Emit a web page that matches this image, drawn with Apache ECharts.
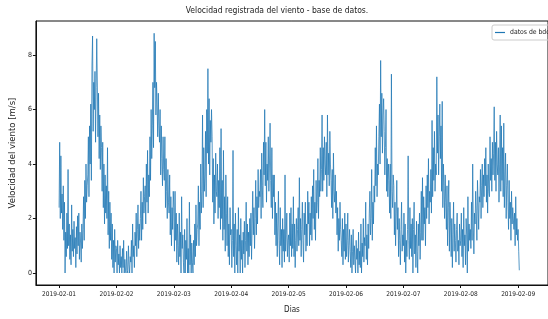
<!DOCTYPE html>
<html>
<head>
<meta charset="utf-8">
<script src="https://cdn.jsdelivr.net/npm/echarts@6/dist/echarts.min.js"></script>
<style>
  html, body { margin: 0; padding: 0; background: #fff; }
  #main { width: 548px; height: 319px; }
</style>
</head>
<body>
<div id="main"></div>
<script>
// velocidad del viento cada 15 min, un bloque por dia (96 valores)
const day1 = [2.4, 4.8, 2.0, 4.3, 2.2, 2.9, 1.6, 3.2, 1.2, 2.6, 0.0, 1.5, 0.6, 2.2, 0.9, 3.8,
  1.0, 1.8, 0.5, 1.4, 0.3, 2.5, 0.8, 1.6, 0.6, 1.9, 0.9, 1.3, 0.2, 1.7, 0.7, 2.1,
  1.0, 2.2, 0.5, 1.5, 1.1, 0.4, 1.8, 0.9, 1.6, 2.8, 1.2, 3.4, 2.0, 4.0, 2.6, 3.2,
  3.6, 5.0, 2.8, 5.4, 4.0, 6.2, 3.4, 7.6, 8.7, 5.2, 7.0, 6.0, 7.4, 4.8, 6.8, 8.6,
  6.9, 5.0, 6.6, 4.2, 5.8, 3.8, 5.4, 4.6, 3.0, 4.8, 2.4, 4.0, 1.8, 3.6, 2.2, 3.2,
  2.0, 4.6, 1.4, 3.0, 0.9, 2.6, 1.2, 2.2, 0.5, 1.8, 0.2, 1.2, 0.0, 1.6, 0.4, 1.0];
const day2 = [0.9, 0.0, 1.2, 0.3, 0.7, 0.0, 1.0, 0.2, 0.6, 0.0, 0.9, 0.2, 1.2, 0.0, 0.5, 0.1,
  0.0, 0.8, 0.1, 0.0, 1.0, 0.3, 0.0, 0.6, 0.4, 1.2, 0.0, 1.8, 0.6, 1.0, 0.2, 1.5,
  1.0, 2.2, 0.6, 1.6, 2.5, 0.9, 1.8, 1.2, 2.0, 3.0, 1.2, 2.6, 1.6, 3.5, 2.2, 2.8,
  3.2, 1.8, 4.0, 2.6, 4.5, 2.2, 3.6, 2.8, 5.0, 3.4, 6.0, 4.2, 5.4, 7.0, 4.6, 8.8,
  6.8, 8.5, 5.8, 7.0, 6.2, 5.0, 6.6, 5.4, 4.8, 6.0, 3.6, 5.4, 4.2, 3.2, 5.0, 3.8,
  3.4, 5.0, 2.4, 4.2, 3.0, 2.0, 3.8, 2.6, 2.2, 3.6, 1.4, 2.8, 1.0, 2.4, 1.6, 3.0];
const day3 = [2.4, 0.8, 3.0, 1.2, 2.2, 0.4, 1.8, 1.0, 0.3, 2.2, 0.6, 1.5, 0.0, 2.8, 0.9, 1.4,
  0.4, 0.0, 1.6, 0.0, 1.2, 0.5, 2.0, 0.0, 0.9, 0.0, 2.6, 0.3, 1.4, 0.0, 1.1, 0.4,
  0.0, 1.2, 0.3, 1.8, 0.6, 2.5, 1.0, 1.6, 1.8, 3.2, 1.0, 2.6, 1.6, 4.0, 2.2, 3.0,
  5.8, 2.4, 4.6, 3.0, 3.6, 5.2, 2.8, 6.0, 4.4, 7.5, 4.0, 6.4, 3.6, 5.6, 4.8, 6.0,
  5.0, 2.6, 4.2, 1.8, 3.6, 2.2, 4.4, 3.0, 2.8, 4.0, 2.0, 3.4, 2.4, 4.6, 1.6, 5.3,
  2.0, 3.4, 1.2, 4.5, 1.6, 2.8, 0.8, 3.6, 2.2, 1.0, 2.8, 0.6, 1.8, 0.3, 2.4, 1.4];
const day4 = [1.6, 0.2, 1.2, 4.5, 0.6, 1.8, 0.0, 2.2, 1.0, 0.3, 1.6, 0.0, 2.4, 0.8, 1.4, 0.0,
  2.0, 0.5, 1.2, 0.0, 1.5, 0.7, 1.9, 0.2, 1.2, 2.6, 0.8, 1.8, 0.3, 1.5, 0.6, 2.0,
  1.0, 2.2, 0.5, 1.8, 3.0, 1.4, 2.4, 0.9, 2.0, 3.4, 1.4, 2.8, 1.8, 3.8, 2.4, 3.0,
  2.8, 3.8, 2.0, 4.4, 3.2, 2.4, 4.8, 3.6, 6.0, 3.2, 4.8, 2.6, 4.0, 3.4, 5.0, 3.0,
  4.0, 5.5, 3.4, 2.4, 4.6, 2.0, 3.6, 2.8, 3.6, 1.4, 2.6, 1.0, 2.2, 0.6, 1.8, 3.0,
  1.2, 0.3, 2.4, 1.0, 1.6, 0.2, 2.0, 0.8, 1.6, 0.4, 3.6, 0.8, 1.4, 2.2, 0.6, 1.2];
const day5 = [1.4, 0.4, 2.2, 1.0, 2.4, 0.6, 1.8, 0.9, 2.8, 0.6, 1.8, 0.2, 1.2, 2.0, 0.8, 1.6,
  2.4, 1.0, 3.5, 1.2, 2.0, 0.6, 1.6, 2.6, 1.2, 0.4, 2.2, 1.4, 2.6, 0.8, 1.8, 1.0,
  3.0, 1.8, 2.6, 1.0, 2.2, 1.4, 2.8, 1.2, 3.2, 2.0, 3.8, 1.6, 2.6, 1.2, 3.4, 2.2,
  2.6, 4.2, 2.0, 3.4, 2.8, 4.6, 3.0, 3.8, 5.8, 3.0, 4.6, 3.4, 5.0, 4.0, 3.6, 4.8,
  2.8, 5.8, 3.6, 4.4, 3.2, 5.2, 4.0, 3.4, 2.4, 3.8, 2.0, 4.4, 3.0, 2.6, 3.6, 2.2,
  3.0, 1.4, 2.4, 0.8, 2.0, 1.2, 2.6, 1.6, 1.2, 0.6, 2.0, 0.3, 1.6, 0.8, 2.2, 0.5];
const day6 = [1.8, 0.6, 1.2, 2.2, 0.4, 1.0, 1.6, 0.8, 0.2, 1.4, 0.0, 0.8, 1.6, 0.3, 1.0, 0.5,
  0.0, 1.2, 0.5, 0.9, 0.0, 1.5, 0.3, 0.8, 0.2, 1.8, 0.0, 1.1, 0.6, 2.0, 0.4, 1.3,
  1.0, 2.6, 0.5, 1.4, 0.3, 1.8, 0.9, 2.2, 3.0, 1.4, 2.0, 3.8, 1.2, 2.6, 1.8, 3.2,
  2.6, 4.6, 3.2, 5.4, 2.8, 4.0, 3.6, 5.0, 6.2, 4.0, 7.8, 5.0, 6.6, 4.4, 5.8, 6.4,
  5.2, 3.6, 4.6, 6.0, 3.0, 4.2, 2.8, 4.0, 3.4, 2.2, 4.0, 2.0, 7.3, 3.0, 2.4, 3.6,
  3.2, 1.4, 2.6, 1.0, 2.2, 3.4, 1.6, 2.4, 0.6, 2.0, 1.2, 0.3, 1.6, 2.6, 0.8, 1.4];
const day7 = [1.0, 2.2, 0.4, 1.8, 0.0, 1.2, 0.6, 1.6, 4.3, 1.2, 0.5, 2.4, 0.9, 1.8, 0.6, 2.0,
  0.0, 1.6, 2.6, 0.7, 1.4, 0.2, 1.9, 0.8, 0.0, 1.8, 1.0, 2.2, 0.5, 1.5, 3.0, 1.2,
  3.5, 1.2, 2.8, 1.8, 2.4, 1.0, 3.2, 2.0, 3.6, 2.4, 4.2, 1.8, 3.0, 2.6, 3.8, 2.2,
  5.6, 2.8, 4.6, 3.4, 5.2, 3.0, 4.0, 3.6, 7.2, 4.4, 5.8, 3.6, 5.0, 6.2, 4.2, 5.4,
  3.0, 6.3, 2.4, 4.0, 3.2, 2.0, 3.6, 2.6, 1.6, 3.2, 1.0, 2.4, 3.4, 0.8, 2.6, 1.8,
  0.6, 2.0, 0.2, 1.4, 2.6, 0.8, 1.8, 1.2, 0.4, 1.6, 2.2, 0.8, 1.2, 0.3, 1.8, 1.0];
const day8 = [1.2, 2.2, 0.6, 1.6, 0.2, 2.4, 1.0, 1.4, 0.3, 2.0, 1.4, 0.0, 2.8, 0.8, 1.8, 1.2,
  1.6, 0.9, 2.6, 1.2, 4.0, 1.8, 0.7, 2.2, 1.8, 3.0, 2.2, 1.2, 3.4, 2.6, 1.6, 2.8,
  2.6, 3.8, 2.0, 3.2, 4.0, 2.4, 3.6, 2.8, 4.2, 3.2, 4.6, 2.6, 3.6, 2.2, 4.0, 3.0,
  2.8, 5.0, 3.4, 4.2, 3.0, 4.8, 3.6, 4.4, 6.1, 3.4, 4.8, 3.0, 5.2, 4.0, 3.6, 4.6,
  2.6, 4.0, 5.8, 3.0, 5.4, 3.4, 4.6, 2.8, 5.5, 2.4, 3.6, 4.4, 2.0, 3.2, 4.0, 2.6,
  1.6, 3.4, 2.0, 2.6, 1.2, 3.0, 1.8, 2.4, 2.4, 1.6, 2.2, 1.0, 2.8, 1.4, 2.0, 1.2];
const lastVals = [1.6, 0.8, 0.1];

const tickLabels = ['2019-02-01', '2019-02-02', '2019-02-03', '2019-02-04', '2019-02-05',
  '2019-02-06', '2019-02-07', '2019-02-08', '2019-02-09'];
const xTicks = [0, 24, 48, 72, 96, 120, 144, 168, 192]; // horas desde 2019-02-01
const yTicks = [0, 2, 4, 6, 8];
const stepHours = 0.25;

const allVals = [].concat(day1, day2, day3, day4, day5, day6, day7, day8, lastVals);
const seriesData = allVals.map((v, i) => [i * stepHours, v]);

const fontNarrow = "'Liberation Sans Narrow', 'DejaVu Sans Condensed', 'Liberation Sans', sans-serif";
const txt = '#222';

var myChart = echarts.init(document.getElementById('main'), null, { renderer: 'canvas' });
var option = {
  backgroundColor: '#fff',
  animation: false,
  title: {
    text: 'Velocidad registrada del viento - base de datos.',
    left: 277,
    top: 6,
    padding: 0,
    textAlign: 'center',
    textStyle: { fontSize: 8.5, fontWeight: 'normal', color: txt, fontFamily: fontNarrow }
  },
  legend: {
    data: ['datos de bdd'],
    left: 492,
    top: 25,
    padding: [4, 3],
    borderColor: '#ccc',
    borderWidth: 1,
    borderRadius: 2,
    icon: 'rect',
    itemWidth: 10,
    itemHeight: 1.2,
    itemGap: 3,
    itemStyle: { color: '#1f77b4' },
    textStyle: { fontSize: 6.8, color: txt, fontFamily: fontNarrow }
  },
  grid: {
    left: 27,
    right: -4,
    top: 21,
    bottom: 29,
    show: true,
    borderColor: '#111',
    borderWidth: 1,
    backgroundColor: 'transparent'
  },
  xAxis: {
    type: 'value',
    min: -9.7,
    max: 204.5,
    name: 'Dias',
    nameLocation: 'middle',
    nameGap: 21,
    nameTextStyle: { fontSize: 8, color: txt, fontFamily: fontNarrow },
    axisLine: { show: true, onZero: false, lineStyle: { color: '#111', width: 1 } },
    axisTick: { show: true, inside: false, length: 3, customValues: xTicks, lineStyle: { color: '#111' } },
    axisLabel: {
      customValues: xTicks,
      formatter: v => tickLabels[Math.round(v / 24)],
      fontSize: 6.5, color: txt, fontFamily: fontNarrow, margin: 6
    },
    splitLine: { show: false }
  },
  yAxis: {
    type: 'value',
    min: -0.44,
    max: 9.25,
    name: 'Velocidad del viento [m/s]',
    nameLocation: 'middle',
    nameGap: 12,
    nameTextStyle: { fontSize: 8.5, color: txt, fontFamily: 'DejaVu Sans' },
    axisLine: { show: true, onZero: false, lineStyle: { color: '#111', width: 1 } },
    axisTick: { show: true, inside: false, length: 3, customValues: yTicks, lineStyle: { color: '#111' } },
    axisLabel: {
      customValues: yTicks,
      fontSize: 7, color: txt, fontFamily: fontNarrow, margin: 4
    },
    splitLine: { show: false }
  },
  series: [{
    name: 'datos de bdd',
    type: 'line',
    data: seriesData,
    symbol: 'none',
    lineStyle: { color: '#1f77b4', width: 0.75 },
    itemStyle: { color: '#1f77b4' }
  }]
};
myChart.setOption(option);
</script>
</body>
</html>
